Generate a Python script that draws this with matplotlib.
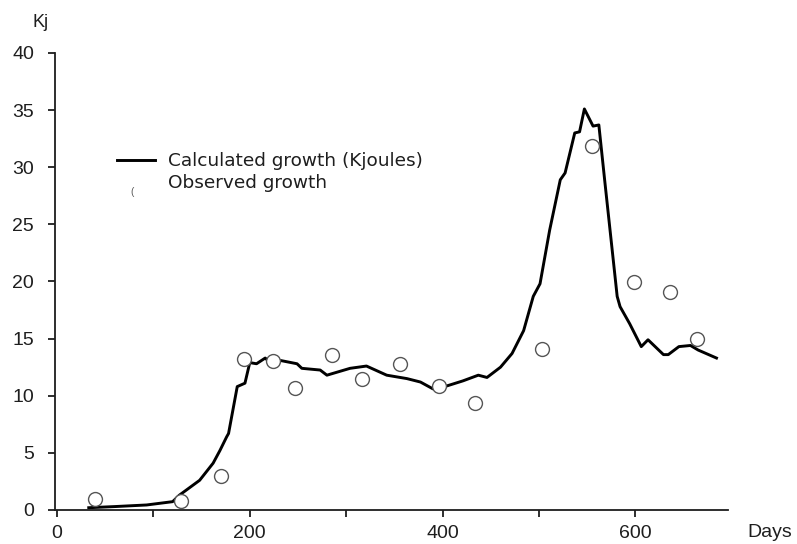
import matplotlib
matplotlib.use("Agg")
import matplotlib.pyplot as plt

plt.rcParams['font.family'] = ['Liberation Sans', 'DejaVu Sans']

# Calculated growth curve (days, kJ)
calc_days = [33, 60, 93, 120, 127, 148, 162, 169, 176, 178, 187, 195, 200, 207, 216,
             221, 231, 249, 254, 273, 280, 304, 321, 342, 363, 377, 390, 404, 421,
             437, 446, 460, 472, 484, 494, 501, 511, 522, 527, 537, 542, 547, 556,
             562, 568, 581, 584, 594, 606, 613, 629, 634, 645, 657, 665, 684]
calc_kj = [0.2, 0.3, 0.44, 0.73, 1.3, 2.6, 4.1, 5.2, 6.4, 6.7, 10.8, 11.1, 12.9, 12.8, 13.3,
           12.9, 13.1, 12.8, 12.4, 12.25, 11.8, 12.4, 12.6, 11.8, 11.5, 11.2, 10.6, 10.85, 11.3,
           11.8, 11.6, 12.5, 13.7, 15.7, 18.7, 19.8, 24.5, 28.9, 29.5, 33.0, 33.1, 35.1, 33.6,
           33.7, 28.9, 18.7, 17.8, 16.3, 14.3, 14.9, 13.6, 13.6, 14.3, 14.4, 14.0, 13.3]

# Observed growth (days, kJ)
obs_days = [40, 129, 170, 194, 224, 247, 285, 316, 356, 396, 434, 503, 555, 598, 636, 664]
obs_kj = [1.0, 0.8, 3.0, 13.2, 13.0, 10.7, 13.6, 11.5, 12.8, 10.85, 9.4, 14.1, 31.9, 19.95, 19.1, 15.0]

x_ticks = [0, 100, 200, 300, 400, 500, 600]
x_labels = ['0', '', '200', '', '400', '', '600']
y_ticks = [0, 5, 10, 15, 20, 25, 30, 35, 40]

INK = '#1e1e1e'

fig = plt.figure(figsize=(7.97, 5.44), dpi=100)
ax = fig.add_axes([0.069, 0.0625, 0.8445, 0.8401])

ax.plot(calc_days, calc_kj, color='black', lw=2.1, solid_joinstyle='round')
ax.plot(obs_days, obs_kj, linestyle='none', marker='o', markersize=10,
        markerfacecolor='white', markeredgecolor='#555555', markeredgewidth=1.0)

ax.set_xlim(-2, 696)
ax.set_ylim(0, 40)
ax.set_xticks(x_ticks)
ax.set_xticklabels(x_labels)
ax.set_yticks(y_ticks)

for s in ['top', 'right']:
    ax.spines[s].set_visible(False)
for s in ['left', 'bottom']:
    ax.spines[s].set_linewidth(1.3)
    ax.spines[s].set_color(INK)

ax.tick_params(axis='both', direction='out', length=5, width=1.3, color=INK,
               labelsize=14, labelcolor=INK)
ax.tick_params(axis='y', pad=10)
ax.tick_params(axis='x', pad=6)

# Axis captions
fig.text(32 / 797, 1 - 27 / 544, 'Kj', fontsize=13, color=INK, ha='left', va='baseline')
fig.text(747 / 797, 1 - 537 / 544, 'Days', fontsize=14, color=INK, ha='left', va='baseline')

# Legend drawn by hand
legend_font = ['DejaVu Sans']
fig.add_artist(plt.Line2D([117 / 797, 155 / 797], [1 - 160 / 544, 1 - 160 / 544],
                          color='black', lw=2.1))
fig.text(168 / 797, 1 - 166 / 544, 'Calculated growth (Kjoules)', fontsize=13.3,
         family=legend_font, color=INK, ha='left', va='baseline')
fig.text(132 / 797, 1 - 192 / 544, '(', fontsize=7, color='#555555', ha='center', va='center')
fig.text(168 / 797, 1 - 188 / 544, 'Observed growth', fontsize=13.3,
         family=legend_font, color=INK, ha='left', va='baseline')

fig.savefig('out.png', dpi=100)
